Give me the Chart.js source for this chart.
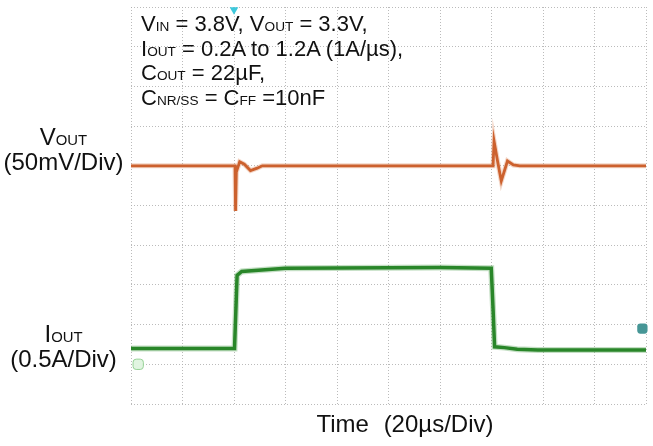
<!DOCTYPE html>
<html>
<head>
<meta charset="utf-8">
<script src="https://cdn.jsdelivr.net/npm/chart.js@4.4.1/dist/chart.umd.min.js"></script>
<style>
  html, body { margin: 0; padding: 0; background: #fff; }
  #wrap { position: relative; width: 653px; height: 446px; font-family: "Liberation Sans", Arial, sans-serif; color: #111; }
  #scope { position: absolute; left: 0; top: 0; }
  .txt { position: absolute; white-space: nowrap; }
  .sub { font-size: 0.62em; }
  #cond { left: 141px; top: 13px; font-size: 22px; line-height: 21.5px; }
  .lbl { left: 0; width: 127px; text-align: center; font-size: 24px; line-height: 22px; }
  #vlbl { top: 126px; }
  #ilbl { top: 323px; }
  #xlbl { left: 230px; width: 350px; text-align: center; top: 413px; font-size: 24px; line-height: 22px; word-spacing: 8px; }
</style>
</head>
<body>
<div id="wrap">
  <canvas id="scope" width="653" height="446"></canvas>
  <div class="txt" id="cond">
    V<span class="sub">IN</span> = 3.8V, V<span class="sub">OUT</span> = 3.3V,<br>
    I<span class="sub">OUT</span> = 0.2A to 1.2A (1A/µs),<br>
    C<span class="sub">OUT</span> = 22µF,<br>
    C<span class="sub">NR/SS</span> = C<span class="sub">FF</span> =10nF
  </div>
  <div class="txt lbl" id="vlbl">V<span class="sub">OUT</span><br>(50mV/Div)</div>
  <div class="txt lbl" id="ilbl">I<span class="sub">OUT</span><br>(0.5A/Div)</div>
  <div class="txt" id="xlbl">Time  (20µs/Div)</div>
</div>
<script>
// time axis in µs (20 µs/div, 10 divisions)
const xTicks = [0, 20, 40, 60, 80, 100, 120, 140, 160, 180, 200];
const yDivs = [0, 1, 2, 3, 4, 5, 6, 7, 8, 9, 10];

// VOUT deviation from 3.3V, in mV
const vTime = [0, 40.4, 40.6, 40.9, 42.2, 44.0, 46.4, 49.0, 51.0, 140.6, 141.0, 142.4, 143.8, 146.2, 148.5, 151.0, 200];
const vDevMv = [0, 0, -57, -8, 5, 2, -6, -3, 0, 0, 31, 5, -19, 6, 1, 0, 0];

// IOUT in A
const iTime = [0, 40.2, 40.8, 41.2, 43, 60, 120, 139.9, 140.6, 141.2, 145, 150, 158, 200];
const iAmp = [0.2, 0.2, 0.75, 1.12, 1.17, 1.21, 1.22, 1.21, 0.7, 0.22, 0.21, 0.19, 0.18, 0.18];

// channel settings (div positions on screen)
const vScale = 50, vOffsetDiv = 6;     // mV/div, 3.3V level at div 6
const iScale = 0.5, iOffsetDiv = 1;    // A/div, 0A at div 1
const triggerTime = 40;
const triggerLevelDiv = 1.9;

const toPts = (xs, ys, f) => xs.map((x, k) => ({ x: x, y: f(ys[k]) }));
const vPts = toPts(vTime, vDevMv, v => vOffsetDiv + v / vScale);
const iPts = toPts(iTime, iAmp, a => iOffsetDiv + a / iScale);

const ORANGE = "rgb(200, 88, 36)";
const GREEN = "rgb(34, 128, 34)";

function trace(pts, color, width) {
  return { data: pts, borderColor: color, borderWidth: width, pointRadius: 0, tension: 0, fill: false };
}

const gridOpts = { color: "rgba(175,175,175,0.85)", lineWidth: 1, drawTicks: false };

new Chart(document.getElementById("scope"), {
  type: "line",
  data: {
    datasets: [
      trace(vPts, "rgba(215,120,70,0.3)", 5),
      trace(vPts, ORANGE, 2.8),
      trace(iPts, "rgba(60,150,60,0.3)", 6),
      trace(iPts, GREEN, 3.5),
      {
        type: "scatter", data: [{ x: triggerTime, y: 9.93 }], clip: false,
        pointStyle: "triangle", rotation: 180, pointRadius: 5,
        backgroundColor: "rgb(60,200,220)", borderColor: "rgb(60,200,220)", borderWidth: 0
      },
      {
        type: "scatter", data: [{ x: 2.8, y: iOffsetDiv }], clip: false,
        pointStyle: "rectRounded", pointRadius: 6,
        backgroundColor: "rgb(225,245,225)", borderColor: "rgb(150,210,150)", borderWidth: 1
      },
      {
        type: "scatter", data: [{ x: 198.6, y: triggerLevelDiv }], clip: false,
        pointStyle: "rectRounded", pointRadius: 6,
        backgroundColor: "rgb(70,150,150)", borderColor: "rgb(70,150,150)", borderWidth: 0
      }
    ]
  },
  options: {
    responsive: false,
    animation: false,
    devicePixelRatio: 1,
    layout: { padding: { left: 131, right: 2, top: 3, bottom: 42 } },
    plugins: { legend: { display: false }, tooltip: { enabled: false } },
    scales: {
      x: {
        type: "linear", min: xTicks[0], max: xTicks[xTicks.length - 1],
        afterBuildTicks: s => { s.ticks = xTicks.map(v => ({ value: v })); },
        ticks: { display: false },
        grid: gridOpts,
        border: { display: false, dash: [1, 2] }
      },
      y: {
        type: "linear", min: yDivs[0], max: yDivs[yDivs.length - 1],
        afterBuildTicks: s => { s.ticks = yDivs.map(v => ({ value: v })); },
        ticks: { display: false },
        grid: gridOpts,
        border: { display: false, dash: [1, 2] }
      }
    }
  }
});
</script>
</body>
</html>
